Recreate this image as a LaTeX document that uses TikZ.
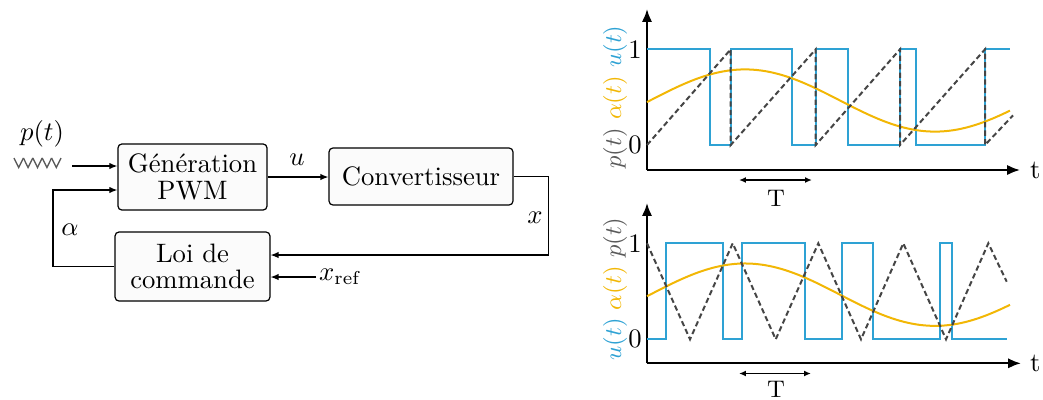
\documentclass[tikz,border=0pt]{standalone}
\usepackage{amsmath,amssymb}
\usepackage{xcolor}
\usepackage{tikz}
\usetikzlibrary{positioning,arrows,arrows.meta,calc}
\definecolor{sigblue}{HTML}{2EA2D4}
\definecolor{sigyel}{HTML}{F2B705}
\definecolor{sigdash}{HTML}{454545}
\definecolor{siglbl}{HTML}{5A5A5A}

\begin{document}
\begin{tikzpicture}[
  x=0.375pt, y=-0.375pt,
  >={Latex[length=3pt, width=2.4pt]},
  block/.style = {draw, fill=gray!3, rounded corners=1.5pt, align=center,
                  line width=0.45pt, inner sep=0pt},
  flow/.style  = {->, line width=0.45pt},
  axis/.style  = {-{Latex[length=4.8pt, width=3.8pt]}, line width=0.75pt},
  per/.style   = {{Latex[length=2.6pt, width=2.2pt]}-{Latex[length=2.6pt, width=2.2pt]},
                  line width=0.6pt},
  usig/.style  = {draw=sigblue, line width=0.75pt},
  asig/.style  = {draw=sigyel, line width=0.75pt},
  psig/.style  = {draw=sigdash, line width=0.75pt, dash pattern=on 2pt off 1.2pt},
  tick/.style  = {anchor=east, inner sep=1pt},
  vlbl/.style  = {rotate=90, font=\small, inner sep=0pt},
]
\useasboundingbox (0,0) rectangle (1043,399);

% ---- block diagram ----------------------------------------------------
\node[block, minimum width=55.9pt, minimum height=24.8pt] at (192.5,177) (pwm)
  {G\'en\'eration\\[-2pt]PWM};
\node[block, minimum width=69pt, minimum height=21.4pt] at (421,176.5) (conv)
  {Convertisseur};
\node[block, minimum width=58.1pt, minimum height=25.9pt] at (192.5,266.5) (loi)
  {Loi de\\[-2pt]commande};

% carrier symbol
\node at (42,134) (plbl) {$p(t)$};
\foreach \k in {0,...,4}
  \draw[line width=0.5pt, black!65] (14+9.4*\k,158) -- (18.7+9.4*\k,167.5) -- (23.4+9.4*\k,158);
\coordinate (zz) at (72,166);
\coordinate (fbk) at (53,190);

\node at (297,160) (ulbl) {$u$};
\node at (535,218) (xlbl) {$x$};
\node at (70,230) (albl) {$\alpha$};
\node[anchor=west, inner sep=1pt] at (316,277) (xref) {$x_{\text{ref}}$};

% ---- connectors -------------------------------------------------------
\draw[flow] (zz) -- (zz -| pwm.west);
\draw[flow] (loi.west) -| (fbk) -- (fbk -| pwm.west);
\draw[flow] (pwm.east) -- (pwm.east -| conv.west);
\draw[flow] (conv.east) -- ++(35,0) |- ($(loi.east)+(0,-11.5)$);
\draw[flow] (xref.west) -- (xref.west -| loi.east);

% ---- top plot: sawtooth carrier ---------------------------------------
\draw[axis] (647,170) -- (647,9);
\draw[axis] (647,170) -- (1020,170);
\node[anchor=west, inner sep=1pt] at (1027,170) (t1) {t};
\node[tick] at (645,49.3) (one1) {1};
\node[tick] at (645,145) (zero1) {0};
\node[vlbl] at (615,97) (lbl1)
  {\textcolor{siglbl}{$p(t)$} \textcolor{sigyel}{$\alpha(t)$} \textcolor{sigblue}{$u(t)$}};
\draw[per] (739,180) -- (812,180);
\node[font=\small] at (776,198) (T1) {T};

\begin{scope}[shift={(0,145)}, yscale=-95.7]
  \draw[usig] (647,1) -- (710,1) -- (710,0) -- (730.7,0) -- (730.7,1) -- (791.7,1)
    -- (791.7,0) -- (815.7,0) -- (815.7,1) -- (848.3,1) -- (848.3,0) -- (900,0)
    -- (900,1) -- (916,1) -- (916,0) -- (985,0) -- (985,1) -- (1010,1);
  \draw[asig] plot[domain=647:1010, samples=90, smooth]
    (\x, {0.465+0.325*cos((\x-745)*0.947368)});
  \draw[psig] (647,0) -- (730.7,1) -- (730.7,0) -- (815.7,1) -- (815.7,0)
    -- (900,1) -- (900,0) -- (985,1) -- (985,0) -- (1013,0.31);
\end{scope}

% ---- bottom plot: triangle carrier ------------------------------------
\draw[axis] (647,363.3) -- (647,203);
\draw[axis] (647,363.3) -- (1021,363.3);
\node[anchor=west, inner sep=1pt] at (1027,363.3) (t2) {t};
\node[tick] at (645,243.3) (one2) {1};
\node[tick] at (645,339.3) (zero2) {0};
\node[vlbl] at (615,289) (lbl2)
  {\textcolor{sigblue}{$u(t)$} \textcolor{sigyel}{$\alpha(t)$} \textcolor{siglbl}{$p(t)$}};
\draw[per] (739,373.5) -- (811,373.5);
\node[font=\small] at (776,389) (T2) {T};

\begin{scope}[shift={(0,339.3)}, yscale=-96]
  \draw[usig] (647,0) -- (666,0) -- (666,1) -- (723.3,1) -- (723.3,0) -- (741.7,0)
    -- (741.7,1) -- (805,1) -- (805,0) -- (841.7,0) -- (841.7,1) -- (873.3,1)
    -- (873.3,0) -- (940,0) -- (940,1) -- (952.3,1) -- (952.3,0) -- (1006.7,0);
  \draw[asig] plot[domain=647:1010, samples=90, smooth]
    (\x, {0.465+0.325*cos((\x-745)*0.947368)});
  \draw[psig] (647,1) -- (690,0) -- (732.7,1) -- (775.7,0) -- (818.3,1) -- (861,0)
    -- (903.3,1) -- (946,0) -- (988.3,1) -- (1006.7,0.6);
\end{scope}

\end{tikzpicture}
\end{document}
